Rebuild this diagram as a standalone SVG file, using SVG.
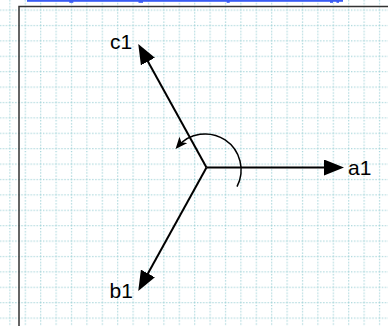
<svg xmlns="http://www.w3.org/2000/svg" width="388" height="326" viewBox="0 0 388 326">
<style>
.axis{stroke:#000;stroke-width:2;fill:none}
.rot{stroke:#000;stroke-width:1.5;fill:none}
.lbl{font-family:"Liberation Sans",Arial,sans-serif;font-size:21px;fill:#000}
.grid{stroke:#9fd2d7;stroke-width:1.2;stroke-dasharray:1.2 1.8;fill:none}
</style>
<defs>
<pattern id="gridp" x="9.3" y="9.5" width="15.4" height="15.4" patternUnits="userSpaceOnUse">
<line class="grid" x1="0.6" y1="0" x2="0.6" y2="15.4"/>
<line class="grid" x1="0" y1="0.6" x2="15.4" y2="0.6"/>
</pattern>
<marker id="big" viewBox="0 0 20 16" refX="10" refY="8" markerWidth="20" markerHeight="16" markerUnits="userSpaceOnUse" orient="auto">
<path d="M0,0 L20,8 L0,16 z" fill="#000"/>
</marker>
<marker id="small" viewBox="0 0 12 10" refX="9" refY="5" markerWidth="12" markerHeight="10" markerUnits="userSpaceOnUse" orient="auto">
<path d="M0,0 L12,5 L0,10 L3,5 z" fill="#000"/>
</marker>
</defs>
<rect width="388" height="326" fill="#fff"/>
<rect width="388" height="326" fill="url(#gridp)"/>
<g id="header">
<rect x="27" y="0" width="316" height="1.8" fill="#3a5cf5"/>
<rect x="69.3" y="0" width="4" height="2.8" fill="#3a5cf5"/>
<rect x="138.5" y="0" width="4.5" height="2.8" fill="#3a5cf5"/>
<rect x="226.7" y="0" width="3" height="2.8" fill="#3a5cf5"/>
<rect x="330" y="0" width="3" height="2.8" fill="#3a5cf5"/>
<rect x="336.5" y="0" width="2.5" height="2.8" fill="#3a5cf5"/>
</g>
<g id="frame">
<path d="M19,326 L19,6.5 L388,6.5" stroke="#333" stroke-width="1.5" fill="none"/>
</g>
<g id="connectors">
<line class="axis" x1="206.5" y1="167.5" x2="334" y2="167.5" marker-end="url(#big)"/>
<line class="axis" x1="206.5" y1="167.5" x2="143.1" y2="52.75" marker-end="url(#big)"/>
<line class="axis" x1="206.5" y1="167.5" x2="143.1" y2="282.25" marker-end="url(#big)"/>
<path class="rot" d="M237,186.6 A36,36 0 0 0 177.5,146.8" marker-end="url(#small)"/>
</g>
<g id="a1"><text class="lbl" x="348" y="175">a1</text></g>
<g id="c1"><text class="lbl" x="110" y="48.5">c1</text></g>
<g id="b1"><text class="lbl" x="109.5" y="298">b1</text></g>
</svg>
